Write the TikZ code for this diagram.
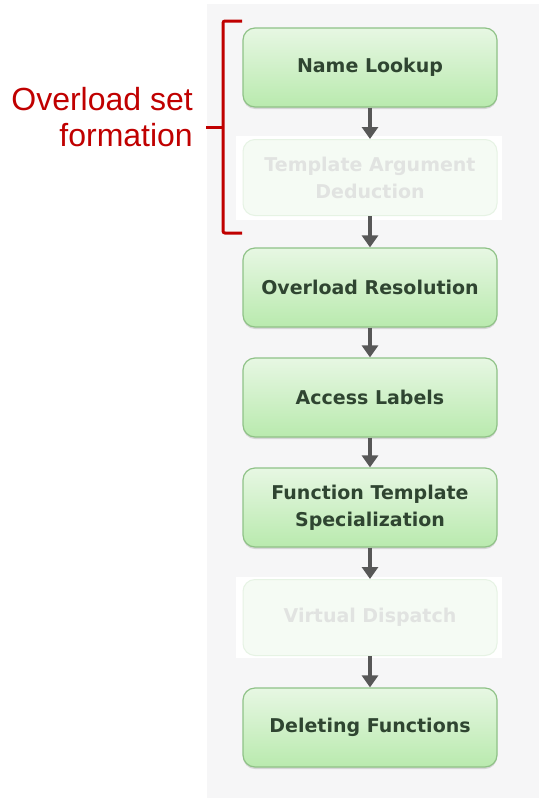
\documentclass[tikz,border=0pt]{standalone}
\usepackage{fontspec}
\setmainfont{Liberation Sans}
\newfontfamily\boxfont{DejaVu Sans}
\usetikzlibrary{arrows.meta,shadows}
\definecolor{panelgray}{HTML}{F6F6F7}
\definecolor{boxtop}{HTML}{E7F7E3}
\definecolor{boxbot}{HTML}{B9EAAE}
\definecolor{boxborder}{HTML}{8FC287}
\definecolor{boxtext}{HTML}{2F4531}
\definecolor{fadefill}{HTML}{F5FBF4}
\definecolor{fadeborder}{HTML}{E6F3E4}
\definecolor{fadetext}{HTML}{E1E3E1}
\definecolor{arrowgray}{HTML}{575757}
\definecolor{bracketred}{HTML}{C00000}
\tikzset{
  stage/.style={draw=boxborder, line width=1.2pt, rounded corners=12pt,
    top color=boxtop, bottom color=boxbot,
    minimum width=254pt, minimum height=79pt, align=center,
    text=boxtext, font=\boxfont\bfseries\fontsize{19}{27}\selectfont,
    drop shadow={shadow xshift=0pt, shadow yshift=-2pt, opacity=0.22, fill=black!60}},
  fadedstage/.style={draw=fadeborder, line width=1pt, rounded corners=12pt,
    fill=fadefill, minimum width=254pt, minimum height=76pt, align=center,
    text=fadetext, font=\boxfont\bfseries\fontsize{19}{27}\selectfont},
  flow/.style={draw=arrowgray, line width=4.5pt,
    -{Triangle[width=16pt,length=12pt]}},
  bracket/.style={draw=bracketred, line width=3pt, rounded corners=2pt}
}
\begin{document}
\begin{tikzpicture}[x=1pt,y=-1pt]
\useasboundingbox (0,0) rectangle (539,798);
\fill[white] (0,0) rectangle (539,798);
\fill[panelgray] (207,4) rectangle (539,798);
% white patches behind faded stages
\fill[white] (236,136) rectangle (502,220);
\fill[white] (236,577) rectangle (502,658);
\node[stage] (n1) at (370,67.5) {Name Lookup};
\node[fadedstage] (n2) at (370,177.5) {Template Argument\\Deduction};
\node[stage] (n3) at (370,287.5) {Overload Resolution};
\node[stage] (n4) at (370,397.5) {Access Labels};
\node[stage] (n5) at (370,507.5) {Function Template\\Specialization};
\node[fadedstage] (n6) at (370,617.5) {Virtual Dispatch};
\node[stage] (n7) at (370,727.5) {Deleting Functions};
\draw[flow] (n1.south) -- (n2.north);
\draw[flow] (n2.south) -- (n3.north);
\draw[flow] (n3.south) -- (n4.north);
\draw[flow] (n4.south) -- (n5.north);
\draw[flow] (n5.south) -- (n6.north);
\draw[flow] (n6.south) -- (n7.north);
% bracket
\draw[bracket] (242,21) -- (223,21) -- (223,233) -- (242,233);
\draw[bracket] (223,127) -- (206,127);
\node[anchor=north east, align=right, text=bracketred, inner sep=0pt,
  font=\fontsize{32}{36}\selectfont] (label) at (193,87) {Overload set\\formation};
\end{tikzpicture}
\end{document}
